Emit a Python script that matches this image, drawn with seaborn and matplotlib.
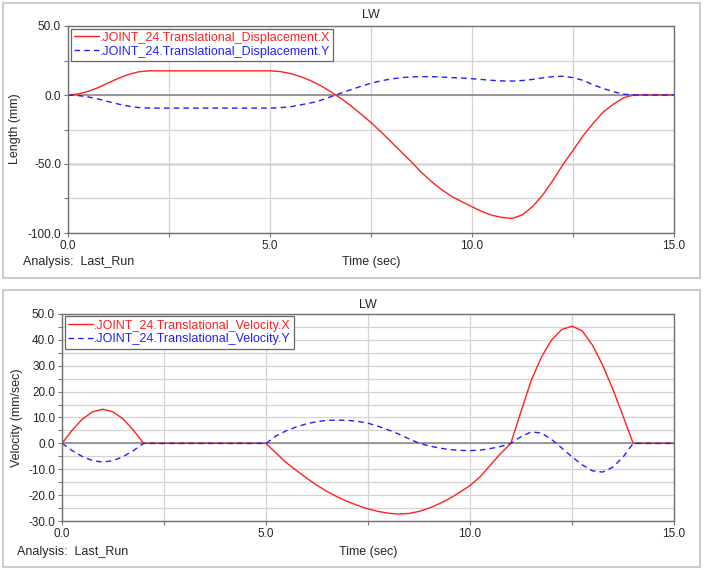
import numpy as np
import pandas as pd
import matplotlib
matplotlib.use("Agg")
import matplotlib.pyplot as plt
from matplotlib.patches import Rectangle
from matplotlib.ticker import MultipleLocator, FormatStrFormatter
import seaborn as sns

# time samples (sec), every 0.25 s
time_s = np.arange(0, 15.01, 0.25)

# displacement (mm)
disp_x = [0, 0.7, 2.6, 5.4, 8.8, 12.1, 14.9, 16.8, 17.5,
          17.5, 17.5, 17.5, 17.5, 17.5, 17.5, 17.5, 17.5, 17.5, 17.5, 17.5,
          17.5, 17.0, 15.6, 13.4, 10.5, 6.8, 2.5, -2.3, -7.8, -13.7, -20.0, -26.8,
          -34.0, -41.3, -48.5, -56.2, -62.8, -68.6, -73.5, -77.3, -81.0, -84.5,
          -87.2, -88.8, -89.4,
          -86.8, -80.8, -72.5, -62.0, -50.5, -40.2, -29.5, -20.5, -12.3, -6.6, -2.0, 0,
          0, 0, 0, 0]
disp_y = [0, -0.4, -1.4, -2.9, -4.8, -6.6, -8.1, -9.1, -9.5,
          -9.5, -9.5, -9.5, -9.5, -9.5, -9.5, -9.5, -9.5, -9.5, -9.5, -9.5,
          -9.5, -9.2, -8.5, -7.2, -5.8, -3.9, -1.3, 1.3, 3.8, 6.3, 8.5, 10.3,
          11.6, 12.6, 13.1, 13.3, 13.3, 13.0, 12.6, 12.3, 11.8, 11.2,
          10.6, 10.2, 10.1,
          10.5, 11.3, 12.4, 13.3, 13.6, 12.6, 10.6, 7.4, 4.7, 2.4, 0.6, 0,
          0, 0, 0, 0]

# velocity (mm/sec)
vel_x = [0, 5.1, 9.4, 12.2, 13.2, 12.2, 9.4, 5.1, 0,
         0, 0, 0, 0, 0, 0, 0, 0, 0, 0, 0,
         0, -3.8, -7.5, -10.5, -13.5, -16.2, -18.6, -20.7, -22.5, -24.0, -25.3, -26.3,
         -27.0, -27.3, -27.1, -26.3, -25.0, -23.3, -21.3, -18.9, -16.3, -12.9,
         -8.4, -3.9, 0,
         12.3, 24.3, 33.3, 40.0, 44.0, 45.3, 43.5, 38.0, 30.3, 21.0, 10.6, 0,
         0, 0, 0, 0]
vel_y = [0, -2.8, -5.1, -6.7, -7.2, -6.7, -5.1, -2.8, 0,
         0, 0, 0, 0, 0, 0, 0, 0, 0, 0, 0,
         0, 2.9, 4.9, 6.4, 7.6, 8.4, 8.9, 9.0, 8.9, 8.5, 7.8, 6.6,
         5.2, 3.6, 1.8, 0.1, -1.0, -1.8, -2.4, -2.7, -2.8, -2.6,
         -2.0, -1.2, 0,
         2.6, 4.4, 4.0, 1.5, -1.8, -5.2, -8.3, -10.6, -11.1, -9.2, -5.3, 0,
         0, 0, 0, 0]

sns.set_style("white")
plt.rcParams['font.family'] = ['Liberation Sans', 'DejaVu Sans']
plt.rcParams['font.size'] = 8.5

W, H = 704, 570
fig = plt.figure(figsize=(W / 100, H / 100), dpi=100)


def fx(px):
    return px / W


def fy(py):
    return 1 - py / H


# panel frames
for top, bot in [(3, 278), (290, 567)]:
    fig.add_artist(Rectangle((fx(3), fy(bot)), fx(697), (bot - top) / H,
                             transform=fig.transFigure, fill=False,
                             ec='#cccccc', lw=1.5))

red = '#ff2020'
blue = '#2020ff'


def style_axes(ax, ymin, ymax, ymajor, yminor):
    ax.set_xlim(0, 15)
    ax.set_ylim(ymin, ymax)
    ax.xaxis.set_major_locator(MultipleLocator(5))
    ax.xaxis.set_minor_locator(MultipleLocator(2.5))
    ax.yaxis.set_major_locator(MultipleLocator(ymajor))
    ax.yaxis.set_minor_locator(MultipleLocator(yminor))
    ax.xaxis.set_major_formatter(FormatStrFormatter('%.1f'))
    ax.yaxis.set_major_formatter(FormatStrFormatter('%.1f'))
    ax.grid(True, which='both', color='#d4d4d4', lw=0.9)
    ax.set_axisbelow(True)
    ax.tick_params(which='both', direction='out', length=3, width=0.8,
                   color='#777777', labelsize=8.5, pad=2, left=True, bottom=True)
    for s in ax.spines.values():
        s.set_color('#707070')
        s.set_linewidth(1.0)
    ax.axhline(0, color='#8a8a8a', lw=1.2, zorder=1)
    ax.set_xlabel('')
    ax.set_ylabel('')


def add_legend(ax):
    leg = ax.legend(loc='upper left', bbox_to_anchor=(0.0, 1.0), borderaxespad=0.2,
                    fancybox=False, edgecolor='#666666', framealpha=1,
                    handlelength=2.0, handletextpad=0.1, labelspacing=0.15,
                    borderpad=0.25, fontsize=9, labelcolor='linecolor')
    leg.get_frame().set_linewidth(0.9)


# top panel: displacement
ax1 = fig.add_axes([fx(68), fy(233), fx(606), 207 / H])
df1 = pd.DataFrame({'t': time_s, 'x': disp_x, 'y': disp_y})
sns.lineplot(data=df1, x='t', y='x', color=red, lw=1.0, ax=ax1,
             label='.JOINT_24.Translational_Displacement.X')
sns.lineplot(data=df1, x='t', y='y', color=blue, lw=1.0, ax=ax1,
             linestyle=(0, (4, 3)), label='.JOINT_24.Translational_Displacement.Y')
style_axes(ax1, -100, 50, 50, 25)
ax1.axhline(-50, color='#e4e4e4', lw=2.2, zorder=0.5)
add_legend(ax1)

fig.text(fx(371), fy(15), 'LW', ha='center', va='center', fontsize=9)
fig.text(fx(15), fy(129), 'Length (mm)', rotation=90, ha='center', va='center', fontsize=9)
fig.text(fx(371), fy(262), 'Time (sec)', ha='center', va='center', fontsize=9)
fig.text(fx(23), fy(262), 'Analysis:  Last_Run', ha='left', va='center', fontsize=9)

# bottom panel: velocity
ax2 = fig.add_axes([fx(62), fy(521), fx(612), 207 / H])
df2 = pd.DataFrame({'t': time_s, 'x': vel_x, 'y': vel_y})
sns.lineplot(data=df2, x='t', y='x', color=red, lw=1.0, ax=ax2,
             label='.JOINT_24.Translational_Velocity.X')
sns.lineplot(data=df2, x='t', y='y', color=blue, lw=1.0, ax=ax2,
             linestyle=(0, (4, 3)), label='.JOINT_24.Translational_Velocity.Y')
style_axes(ax2, -30, 50, 10, 5)
add_legend(ax2)

fig.text(fx(368), fy(305), 'LW', ha='center', va='center', fontsize=9)
fig.text(fx(17), fy(418), 'Velocity (mm/sec)', rotation=90, ha='center', va='center', fontsize=9)
fig.text(fx(368), fy(552), 'Time (sec)', ha='center', va='center', fontsize=9)
fig.text(fx(17), fy(552), 'Analysis:  Last_Run', ha='left', va='center', fontsize=9)

fig.savefig('out.png', dpi=100)
